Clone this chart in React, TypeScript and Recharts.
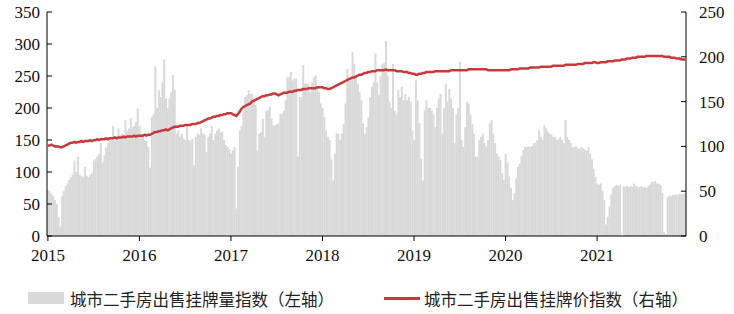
import { ComposedChart, Bar, Line, XAxis, YAxis } from "recharts";

const YEARS = [2015, 2016, 2017, 2018, 2019, 2020, 2021];

// weekly listing volume index (left axis)
const vol2015 = [72, 70, 66, 62, 56, 50, 30, 15, 62, 70, 78, 82, 88, 92, 96, 118, 100, 124, 96, 94, 92, 108, 94, 92, 95, 98, 118, 120, 124, 128, 145, 115, 126, 138, 145, 150, 152, 172, 150, 156, 168, 158, 160, 158, 181, 165, 168, 184, 170, 172, 178, 199];
const vol2016 = [172, 160, 155, 150, 148, 139, 107, 186, 190, 265, 200, 228, 217, 240, 276, 215, 200, 215, 225, 251, 228, 160, 165, 155, 160, 152, 150, 173, 150, 148, 152, 111, 155, 160, 158, 168, 160, 158, 131, 155, 160, 172, 150, 160, 165, 168, 162, 163, 150, 142, 139, 135];
const vol2017 = [129, 134, 139, 43, 108, 165, 172, 195, 217, 220, 228, 222, 222, 215, 205, 134, 160, 162, 183, 155, 196, 196, 202, 183, 173, 173, 175, 176, 191, 191, 196, 212, 248, 248, 256, 243, 246, 246, 124, 217, 217, 267, 238, 238, 238, 225, 240, 248, 251, 235, 225, 207];
const vol2018 = [200, 186, 165, 155, 150, 120, 87, 129, 160, 160, 150, 160, 175, 207, 261, 243, 243, 287, 269, 250, 238, 225, 212, 176, 160, 170, 185, 217, 233, 240, 285, 240, 220, 250, 269, 270, 305, 250, 210, 200, 269, 196, 190, 228, 217, 233, 212, 222, 212, 217, 210, 165];
const vol2019 = [150, 243, 212, 176, 120, 87, 196, 212, 200, 200, 196, 190, 170, 200, 215, 222, 160, 200, 238, 210, 230, 215, 200, 145, 190, 200, 272, 150, 139, 170, 210, 207, 190, 175, 160, 124, 124, 150, 155, 160, 145, 140, 150, 176, 181, 160, 145, 129, 124, 119, 98, 88];
const vol2020 = [129, 115, 93, 75, 56, 67, 90, 108, 113, 125, 134, 139, 139, 140, 139, 141, 145, 145, 150, 165, 155, 150, 173, 168, 163, 160, 158, 155, 155, 150, 152, 155, 150, 145, 181, 155, 150, 145, 139, 139, 140, 137, 136, 139, 137, 135, 133, 139, 129, 120, 105, 92];
const vol2021 = [82, 80, 82, 70, 56, 18, 30, 46, 65, 75, 78, 80, 78, 80, 0, 78, 77, 78, 76, 78, 77, 82, 78, 76, 77, 78, 76, 77, 75, 78, 80, 85, 84, 86, 82, 82, 80, 67, 6, 3, 60, 63, 62, 64, 64, 65, 64, 66, 65, 66, 67];

// weekly listing price index (right axis)
const price2015 = [101, 101, 102, 101, 100, 100, 100, 99, 99, 100, 101, 102, 103, 104, 104, 105, 104, 105, 105, 106, 105, 106, 106, 106, 107, 106, 107, 107, 108, 107, 108, 108, 108, 109, 108, 109, 109, 109, 110, 109, 110, 110, 110, 111, 110, 111, 111, 111, 111, 112, 111, 112];
const price2016 = [112, 112, 112, 113, 112, 113, 113, 114, 115, 116, 116, 117, 117, 118, 118, 119, 118, 119, 120, 121, 122, 122, 122, 123, 123, 123, 124, 124, 124, 124, 125, 125, 125, 126, 126, 127, 128, 129, 130, 131, 131, 132, 133, 133, 134, 134, 135, 135, 136, 136, 137, 137];
const price2017 = [137, 136, 135, 134, 136, 139, 142, 144, 145, 146, 147, 148, 150, 151, 152, 153, 154, 155, 156, 156, 157, 157, 158, 158, 159, 159, 158, 157, 158, 159, 160, 160, 160, 161, 161, 161, 162, 162, 163, 163, 163, 164, 164, 164, 165, 165, 165, 165, 165, 166, 166, 166];
const price2018 = [166, 165, 165, 164, 164, 165, 166, 167, 168, 169, 170, 171, 172, 173, 174, 175, 176, 177, 177, 178, 179, 180, 180, 181, 182, 182, 183, 183, 184, 184, 184, 185, 185, 185, 185, 185, 186, 185, 185, 185, 185, 185, 184, 184, 184, 184, 183, 183, 183, 182, 182, 181];
const price2019 = [181, 180, 180, 181, 181, 182, 182, 183, 183, 183, 183, 183, 184, 184, 184, 184, 184, 184, 184, 184, 184, 185, 185, 185, 185, 185, 185, 185, 185, 185, 185, 186, 186, 186, 186, 186, 186, 186, 186, 186, 186, 186, 185, 185, 185, 185, 185, 185, 185, 185, 185, 185];
const price2020 = [185, 185, 185, 186, 186, 186, 186, 186, 187, 187, 187, 187, 187, 187, 188, 188, 188, 188, 188, 188, 189, 189, 189, 189, 189, 189, 189, 190, 190, 190, 190, 190, 190, 190, 191, 191, 191, 191, 191, 191, 191, 192, 192, 192, 192, 193, 193, 193, 193, 193, 194, 194];
const price2021 = [193, 193, 194, 194, 194, 194, 195, 195, 195, 195, 196, 196, 196, 196, 197, 197, 197, 198, 198, 198, 199, 199, 199, 200, 200, 200, 200, 200, 201, 201, 201, 201, 201, 201, 201, 201, 201, 201, 200, 200, 200, 200, 199, 199, 199, 198, 198, 198, 197, 197, 197];

const LEFT_TICKS = [0, 50, 100, 150, 200, 250, 300, 350];
const RIGHT_TICKS = [0, 50, 100, 150, 200, 250];

const volByYear = [vol2015, vol2016, vol2017, vol2018, vol2019, vol2020, vol2021];
const priceByYear = [price2015, price2016, price2017, price2018, price2019, price2020, price2021];

const rows = YEARS.flatMap((y, k) =>
  volByYear[k].map((v, i) => ({ week: `${y}-${i}`, volume: v, price: priceByYear[k][i] }))
);
const yearTicks = YEARS.map((y) => `${y}-0`);

const SERIF = "Liberation Serif";

// plain svg tick so the serif font is set on the text element itself
function SerifTick(props: any) {
  const { x, y, payload, textAnchor, tickFormatter } = props;
  const label = tickFormatter ? tickFormatter(payload.value) : payload.value;
  return (
    <text x={x} y={y} textAnchor={textAnchor} dy="0.355em" fontFamily={SERIF} fontSize={17} fill="#111">
      {label}
    </text>
  );
}

function XTick(props: any) {
  const { x, y, payload } = props;
  return (
    <text x={x} y={y} textAnchor="middle" dy="0.75em" fontFamily={SERIF} fontSize={17} fill="#111">
      {String(payload.value).split("-")[0]}
    </text>
  );
}

const legendText = { fontFamily: "'Noto Sans CJK SC', sans-serif", fontSize: 16.5, color: "#222", whiteSpace: "nowrap" } as const;

export default function App() {
  return (
    <div style={{ position: "relative", width: 734, height: 314, background: "#fff" }}>
      <style>{`body{margin:0}`}</style>
      <ComposedChart
        width={734}
        height={275}
        data={rows}
        margin={{ top: 12, right: 0, bottom: 0, left: 0 }}
        barCategoryGap={0}
        barGap={0}
      >
        <XAxis
          dataKey="week"
          ticks={yearTicks}
          interval={0}
          height={39}
          tick={<XTick />}
          tickSize={5}
          tickMargin={7}
          stroke="#000"
        />
        <YAxis
          yAxisId="left"
          domain={[0, 350]}
          ticks={LEFT_TICKS}
          width={47}
          tick={<SerifTick />}
          tickSize={-5}
          tickMargin={12}
          stroke="#000"
          interval={0}
        />
        <YAxis
          yAxisId="right"
          orientation="right"
          domain={[0, 250]}
          ticks={RIGHT_TICKS}
          width={48}
          tick={<SerifTick />}
          tickSize={-5}
          tickMargin={18}
          stroke="#000"
          interval={0}
        />
        <Bar yAxisId="left" dataKey="volume" fill="#d9d9d9" isAnimationActive={false} />
        <Line
          yAxisId="right"
          dataKey="price"
          type="linear"
          stroke="#c9393c"
          strokeWidth={2.5}
          dot={false}
          isAnimationActive={false}
        />
      </ComposedChart>
      <div style={{ position: "absolute", left: 28, top: 292, width: 36, height: 12, background: "#d9d9d9" }} />
      <div style={{ ...legendText, position: "absolute", left: 70, top: 287 }}>城市二手房出售挂牌量指数（左轴）</div>
      <div style={{ position: "absolute", left: 384, top: 297, width: 36, height: 3, background: "#c9393c" }} />
      <div style={{ ...legendText, position: "absolute", left: 424, top: 287 }}>城市二手房出售挂牌价指数（右轴）</div>
    </div>
  );
}
